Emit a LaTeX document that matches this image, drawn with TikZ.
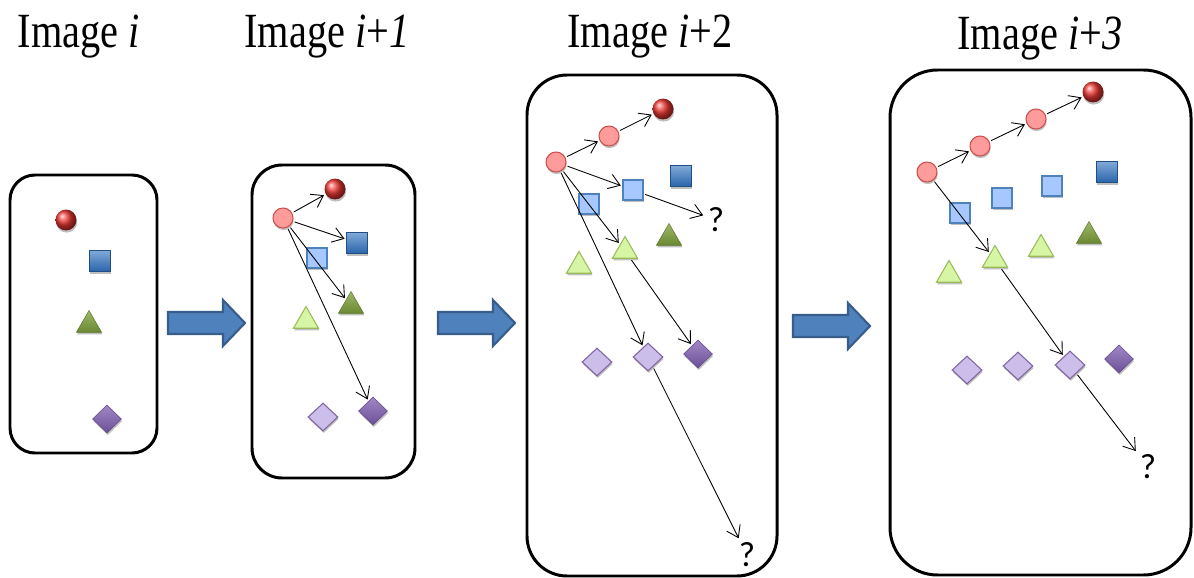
\documentclass[tikz,border=0pt]{standalone}
\usepackage{fontspec}
\setmainfont{Liberation Serif}
\newfontfamily\qfont{Carlito}
\usepackage{tikz}
\usetikzlibrary{arrows.meta,positioning,shapes.geometric,shadows}
\definecolor{redball}{RGB}{235,55,50}
\definecolor{redlite}{RGB}{255,155,155}
\definecolor{redline}{RGB}{205,80,77}
\definecolor{bluedeep}{RGB}{45,112,190}
\definecolor{bluelite}{RGB}{166,200,255}
\definecolor{blueline}{RGB}{79,129,189}
\definecolor{greendeep}{RGB}{125,160,58}
\definecolor{greenlite}{RGB}{215,246,165}
\definecolor{greenline}{RGB}{155,187,89}
\definecolor{purpdeep}{RGB}{128,95,178}
\definecolor{purplite}{RGB}{204,190,234}
\definecolor{purpline}{RGB}{128,100,162}
\definecolor{blkfill}{RGB}{79,129,189}
\definecolor{blkline}{RGB}{56,93,138}
\tikzset{
  frame/.style={draw=black,line width=1.7pt},
  title/.style={anchor=base,inner sep=0pt,font=\fontsize{28}{32}\selectfont},
  qmark/.style={inner sep=1.5pt,font=\qfont\fontsize{20}{24}\selectfont},
  shad/.style={drop shadow={shadow xshift=0.4pt,shadow yshift=-1.2pt,opacity=0.25,fill=black}},
  % objects of the current image: shaded
  ball/.style={circle,minimum size=0.42cm,inner sep=0pt,ball color=redball,shad},
  cube/.style={rectangle,minimum size=0.42cm,inner sep=0pt,draw=bluedeep!70!black,
    line width=0.3pt,top color=bluedeep!60!white,bottom color=bluedeep!90!black,shad},
  pyr/.style={regular polygon,regular polygon sides=3,minimum size=0.58cm,inner sep=0pt,
    draw=greendeep!75!black,line width=0.3pt,top color=greendeep!75!white,
    bottom color=greendeep!85!black,shad},
  gem/.style={diamond,minimum width=0.58cm,minimum height=0.56cm,inner sep=0pt,
    draw=purpdeep!75!black,line width=0.3pt,top color=purpdeep!75!white,
    bottom color=purpdeep!85!black,shad},
  % objects of the earlier images: flat
  dot/.style={circle,minimum size=0.4cm,inner sep=0pt,fill=redlite,draw=redline,line width=0.6pt,shad},
  sq/.style={rectangle,minimum size=0.4cm,inner sep=0pt,fill=bluelite,draw=blueline,line width=0.6pt,shad},
  tri/.style={regular polygon,regular polygon sides=3,minimum size=0.58cm,inner sep=0pt,
    fill=greenlite,draw=greenline,line width=0.6pt,shad},
  rh/.style={diamond,minimum width=0.6cm,minimum height=0.56cm,inner sep=0pt,
    fill=purplite,draw=purpline,line width=0.6pt,shad},
  arr/.style={-{Straight Barb[length=2.2mm,width=3mm]},line width=0.5pt,
    shorten <=1pt,shorten >=1pt},
  blk/.style={fill=blkfill,draw=blkline,line width=1.2pt,line join=miter}
}

\begin{document}
\begin{tikzpicture}[x=0.02cm,y=-0.02cm]
  \useasboundingbox (0,0) rectangle (1194,578);
  % titles
  \node[title] (tA) at (79,48) {\scalebox{0.82}[1]{Image \textit{i}}};
  \node[title] (tB) at (327,48) {\scalebox{0.82}[1]{Image \textit{i}+\textit{1}}};
  \node[title] (tC) at (650,48) {\scalebox{0.82}[1]{Image \textit{i}+2}};
  \node[title] (tD) at (1040,50) {\scalebox{0.82}[1]{Image \textit{i}+\textit{3}}};
  % frames
  \draw[frame,rounded corners=0.5cm] (10,175) rectangle (157,453);
  \draw[frame,rounded corners=0.6cm] (252,165) rectangle (415,478);
  \draw[frame,rounded corners=0.8cm] (527,75) rectangle (777,576);
  \draw[frame,rounded corners=0.95cm] (890,70) rectangle (1191,575);
  % block arrows between the images
  \foreach \ax/\ay in {168/323,438/323,793/326}
    \draw[blk] (\ax,\ay-11) -- ++(55,0) -- ++(0,-12) -- ++(22,23)
      -- ++(-22,23) -- ++(0,-12) -- ++(-55,0) -- cycle;

  % image i
  \node[ball] (ballA) at (66,220) {};
  \node[cube] (cubeA) at (100,261) {};
  \node[pyr]  (pyrA)  at (89,325) {};
  \node[gem]  (gemA)  at (107,419) {};

  % image i+1
  \node[dot]  (dotB)  at (283,218) {};
  \node[sq]   (sqB)   at (317,258) {};
  \node[tri]  (triB)  at (306,321) {};
  \node[rh]   (rhB)   at (323,417) {};
  \node[ball] (ballB) at (335,189) {};
  \node[cube] (cubeB) at (357,243) {};
  \node[pyr]  (pyrB)  at (351,306) {};
  \node[gem]  (gemB)  at (373,411) {};
  \foreach \t in {ballB,cubeB,pyrB,gemB} \draw[arr] (dotB) -- (\t);

  % image i+2
  \node[dot]  (dotC1) at (556,162) {};
  \node[dot]  (dotC2) at (609,136) {};
  \node[sq]   (sqC1)  at (589,204) {};
  \node[sq]   (sqC2)  at (633,190) {};
  \node[tri]  (triC1) at (579,266) {};
  \node[tri]  (triC2) at (625,251) {};
  \node[rh]   (rhC1)  at (597,362) {};
  \node[rh]   (rhC2)  at (648,357) {};
  \node[ball] (ballC) at (663,109) {};
  \node[cube] (cubeC) at (681,176) {};
  \node[pyr]  (pyrC)  at (669,238) {};
  \node[gem]  (gemC)  at (698,354) {};
  \node[qmark] (qC1) at (716,220) {?};
  \node[qmark] (qC2) at (747,555) {?};
  \foreach \s/\t in {dotC1/dotC2,dotC2/ballC,dotC1/sqC2,dotC1/triC2,dotC1/rhC2,
    sqC2/qC1,triC2/gemC,rhC2/qC2}
    \draw[arr] (\s) -- (\t);

  % image i+3
  \node[dot]  (dotD1) at (927,172) {};
  \node[dot]  (dotD2) at (980,146) {};
  \node[dot]  (dotD3) at (1036,119) {};
  \node[sq]   (sqD1)  at (960,213) {};
  \node[sq]   (sqD2)  at (1002,198) {};
  \node[sq]   (sqD3)  at (1052,186) {};
  \node[tri]  (triD1) at (949,275) {};
  \node[tri]  (triD2) at (995,260) {};
  \node[tri]  (triD3) at (1041,249) {};
  \node[rh]   (rhD1)  at (967,370) {};
  \node[rh]   (rhD2)  at (1018,366) {};
  \node[rh]   (rhD3)  at (1070,365) {};
  \node[ball] (ballD) at (1093,92) {};
  \node[cube] (cubeD) at (1107,172) {};
  \node[pyr]  (pyrD)  at (1089,236) {};
  \node[gem]  (gemD)  at (1119,359) {};
  \node[qmark] (qD) at (1148,467) {?};
  \foreach \s/\t in {dotD1/dotD2,dotD2/dotD3,dotD3/ballD,dotD1/triD2,triD2/rhD3,rhD3/qD}
    \draw[arr] (\s) -- (\t);
\end{tikzpicture}
\end{document}
